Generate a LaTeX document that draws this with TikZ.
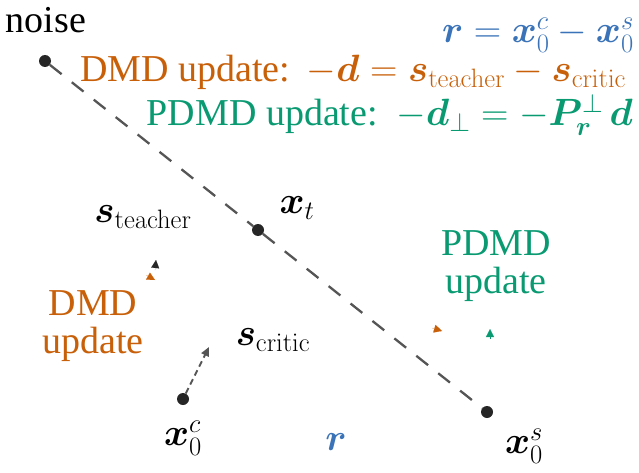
\RequirePackage{fix-cm}
\documentclass[tikz,border=0pt]{standalone}
\usepackage{amsmath,bm}
\usepackage[no-math]{fontspec}
\setmainfont{Liberation Serif}
\usetikzlibrary{arrows.meta}
\definecolor{cblue}{HTML}{3A73B8}
\definecolor{corange}{HTML}{C8600A}
\definecolor{cgreen}{HTML}{0A9A72}
\definecolor{cgray}{HTML}{555555}
\tikzset{
  lbl/.style={inner sep=0pt, font=\fontsize{38}{42}\selectfont},
  dot/.style={circle, fill=black!85, inner sep=0pt, minimum size=12pt},
  traj/.style={cgray, line width=2.3pt, dash pattern=on 15pt off 13pt},
  tipblack/.style={-{Triangle[length=8pt,width=8pt]}, black!85, line width=0.1pt},
  tiporange/.style={-{Triangle[length=8pt,width=8pt]}, corange, line width=0.1pt},
  tipgreen/.style={-{Triangle[length=8pt,width=8pt]}, cgreen, line width=0.1pt},
}
\begin{document}
\begin{tikzpicture}[x=1pt,y=-1pt]
\useasboundingbox (0,0) rectangle (639,473);
% points
\node[dot] (noise) at (45,61) {};
\node[dot] (xt) at (258,230) {};
\node[dot] (x0c) at (183,399) {};
\node[dot] (x0s) at (487,412) {};
% trajectory
\draw[traj] (noise) -- (xt) -- (x0s);
% short dashed arrow from x0c
\coordinate (ca) at (209,347);
\draw[cgray, line width=1.8pt, dash pattern=on 6pt off 4pt, -{Triangle[length=9pt,width=8pt]}] (x0c) -- (ca);
% arrow tips
\coordinate (t1a) at (155,270); \coordinate (t1b) at (156,260);
\draw[tipblack] (t1a) -- (t1b);
\coordinate (t2a) at (146,275); \coordinate (t2b) at (155,280);
\draw[tiporange] (t2a) -- (t2b);
\coordinate (t3a) at (432,328); \coordinate (t3b) at (442,331);
\draw[tiporange] (t3a) -- (t3b);
\coordinate (t4a) at (490,339); \coordinate (t4b) at (490,329);
\draw[tipgreen] (t4a) -- (t4b);
% labels
\node[lbl, anchor=base] (lnoise) at (46,33) {noise};
\node[lbl, anchor=base east, cblue] (lr) at (634,43) {$\boldsymbol{r}=\boldsymbol{x}_0^c-\boldsymbol{x}_0^s$};
\node[lbl, anchor=base west, corange] (ldmd) at (80,82) {DMD update: \hspace{4pt}$-\boldsymbol{d}=\boldsymbol{s}_{\mathrm{teacher}}-\boldsymbol{s}_{\mathrm{critic}}$};
\node[lbl, anchor=base east, cgreen] (lpdmd) at (633,126) {PDMD update: \hspace{6pt}$-\boldsymbol{d}_\perp=-\boldsymbol{P}_{\boldsymbol{r}}^\perp\,\boldsymbol{d}$};
\node[lbl] (lst) at (143,217) {$\boldsymbol{s}_{\mathrm{teacher}}$};
\node[lbl] (lxt) at (297,208) {$\boldsymbol{x}_t$};
\node[lbl, corange, align=center] (ldmd2) at (93,326) {DMD\\[-4pt]update};
\node[lbl] (lsc) at (273,340) {$\boldsymbol{s}_{\mathrm{critic}}$};
\node[lbl, cgreen, align=center] (lpdmd2) at (496,266) {PDMD\\[-4pt]update};
\node[lbl] (lx0c) at (183,438) {$\boldsymbol{x}_0^c$};
\node[lbl, cblue] (lrr) at (336,442) {$\boldsymbol{r}$};
\node[lbl] (lx0s) at (524,446) {$\boldsymbol{x}_0^s$};
\end{tikzpicture}
\end{document}
